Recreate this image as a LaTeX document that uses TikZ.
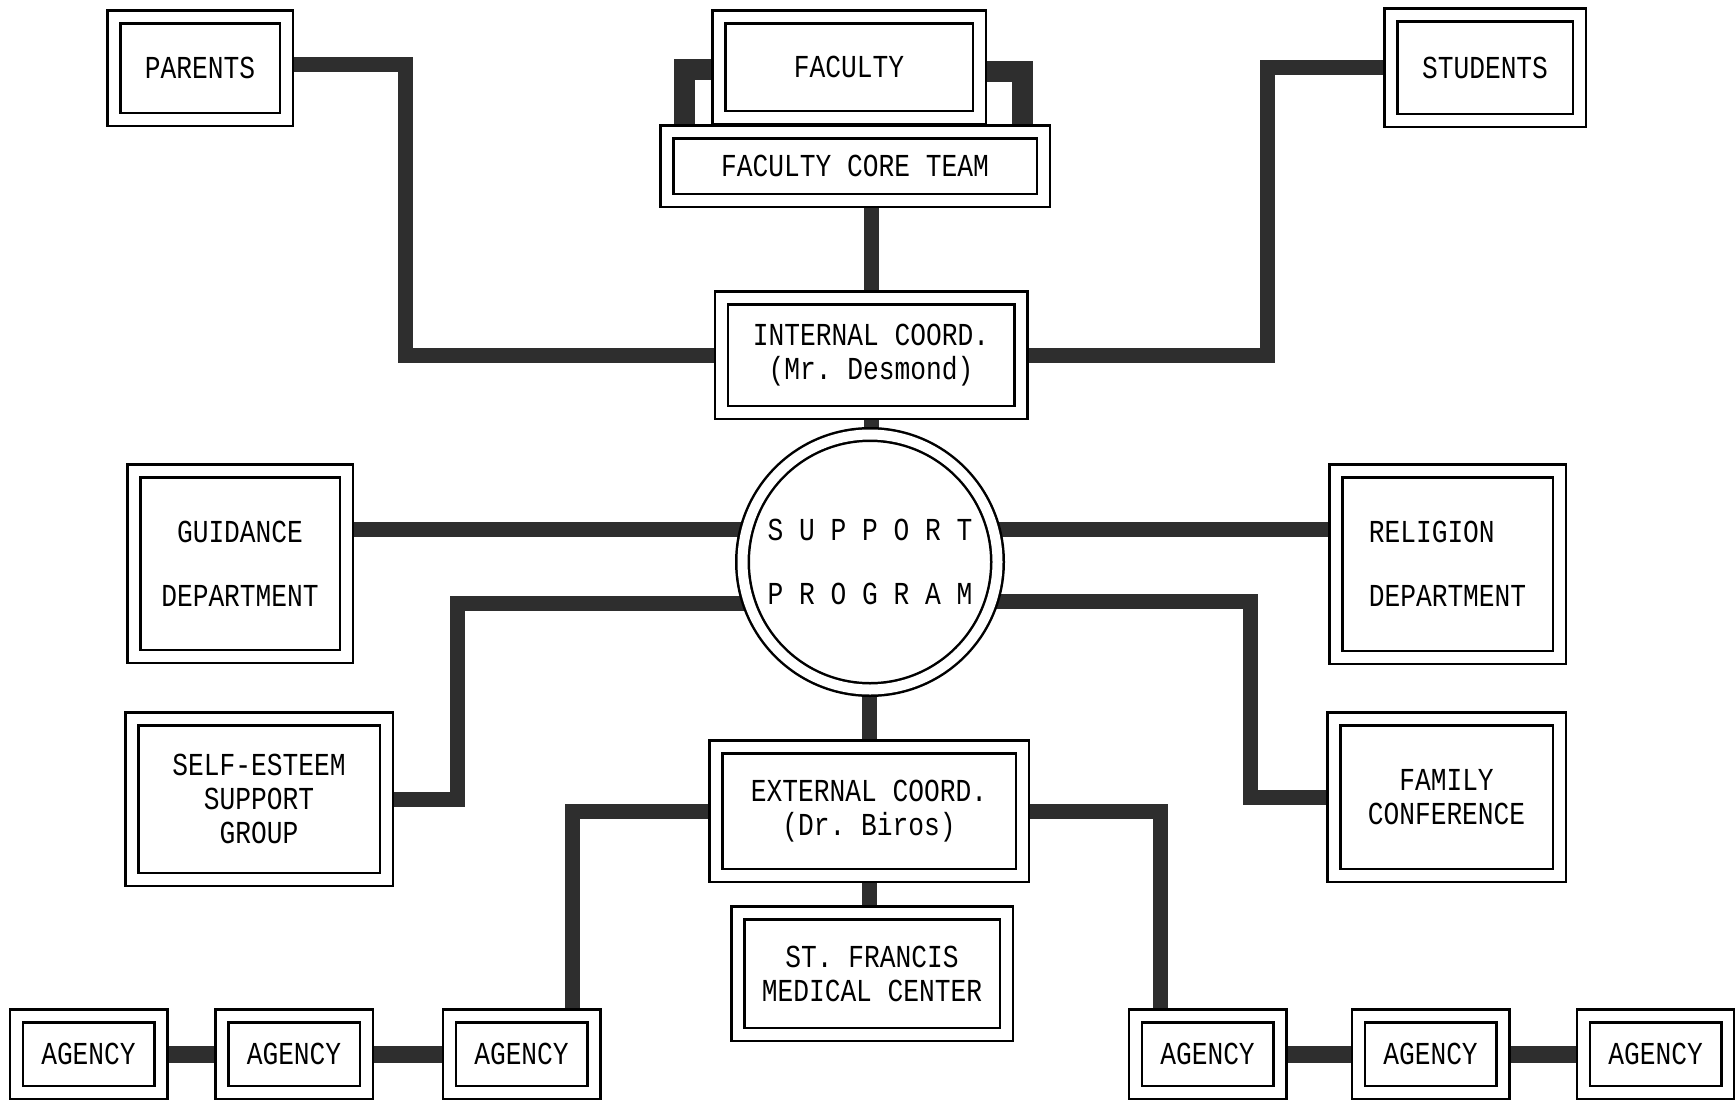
\documentclass[tikz,border=0pt]{standalone}
\usepackage{fontspec}
\setmonofont[FakeStretch=0.82]{Liberation Mono}
\usetikzlibrary{calc}
\pgfdeclarelayer{bg}
\pgfsetlayers{bg,main}
\newcommand{\chartfont}{\ttfamily\fontsize{32}{34}\selectfont}
\tikzset{
    frame/.style = {draw, double, double distance=10.5pt, line width=2.5pt, fill=white,
        inner sep=0pt, align=center, font=\chartfont},
    agencybox/.style = {frame, minimum width=144.5pt, minimum height=76.5pt},
    link/.style = {line width=15pt, draw=black!82},
}

\begin{document}
\begin{tikzpicture}[x=1pt, y=-1pt]
    \useasboundingbox (0,0) rectangle (1735,1103);

    \node[frame, minimum width=172.5pt, minimum height=102.5pt] (parents) at (200,68) {PARENTS};
    \node[frame, minimum width=260.5pt, minimum height=100.5pt] (faculty) at (849,67) {FACULTY};
    \node[frame, minimum width=376.5pt, minimum height=68.5pt] (core) at (855,166) {FACULTY CORE TEAM};
    \node[frame, minimum width=188.5pt, minimum height=105.5pt] (students) at (1485,67.5) {STUDENTS};
    \node[frame, minimum width=299.5pt, minimum height=114.5pt] (internal) at (871,355) {INTERNAL COORD.\\(Mr. Desmond)};
    \node[frame, circle, double distance=10pt, minimum size=255pt] (sp) at (870,562) {S U P P O R T\\[30pt]P R O G R A M};
    \node[frame, minimum width=212.5pt, minimum height=185.5pt] (guidance) at (240,563.5) {GUIDANCE\\[30pt]DEPARTMENT};
    \node[frame, align=left, minimum width=223.5pt, minimum height=186.5pt] (religion) at (1447.5,564) {RELIGION\\[30pt]DEPARTMENT};
    \node[frame, minimum width=254.5pt, minimum height=160.5pt] (selfesteem) at (259,799) {SELF-ESTEEM\\SUPPORT\\GROUP};
    \node[frame, minimum width=225.5pt, minimum height=156.5pt] (family) at (1446.5,797) {FAMILY\\CONFERENCE};
    \node[frame, minimum width=306.5pt, minimum height=128.5pt] (external) at (869,811) {EXTERNAL COORD.\\(Dr. Biros)};
    \node[frame, minimum width=268.5pt, minimum height=121.5pt] (francis) at (872,973.5) {ST. FRANCIS\\MEDICAL CENTER};

    \foreach \i/\x in {1/88.5, 2/294, 3/521.5}
        \node[agencybox] (agl\i) at (\x,1054) {AGENCY};
    \foreach \i/\x in {1/1207.5, 2/1430.5, 3/1655.5}
        \node[agencybox] (agr\i) at (\x,1054) {AGENCY};

    \begin{pgfonlayer}{bg}
        \draw[link] (parents.east |- 0,64) -| (405,355) -- (internal.west);
        \draw[link] (internal.east) -| (1267,67.5) -- (students.west);
        \draw[link, line width=21pt] (faculty.west |- 0,69) -| (core.north -| 684,0);
        \draw[link, line width=21pt] (faculty.east |- 0,71) -| (core.north -| 1022,0);
        \draw[link] (internal.north) -- (internal.north |- core.south);
        \draw[link] (internal.south) -- (internal.south |- sp.center);
        \draw[link] (guidance.east |- 0,529) -- (sp.center |- 0,529) -- (religion.west |- 0,529);
        \draw[link] (sp.center |- 0,603) -| (457,799) -- (selfesteem.east);
        \draw[link] (sp.center |- 0,601) -| (1250,797) -- (family.west);
        \draw[link] (external.north) -- (external.north |- sp.center);
        \draw[link] (external.south) -- (external.south |- francis.north);
        \draw[link] (external.west) -| ($(agl3.north)+(51,0)$);
        \draw[link] (external.east) -| ($(agr1.north)+(-47,0)$);
        \foreach \a/\b in {agl1/agl2, agl2/agl3, agr1/agr2, agr2/agr3}
            \draw[link, line width=17pt] (\a) -- (\b);
    \end{pgfonlayer}
\end{tikzpicture}
\end{document}
